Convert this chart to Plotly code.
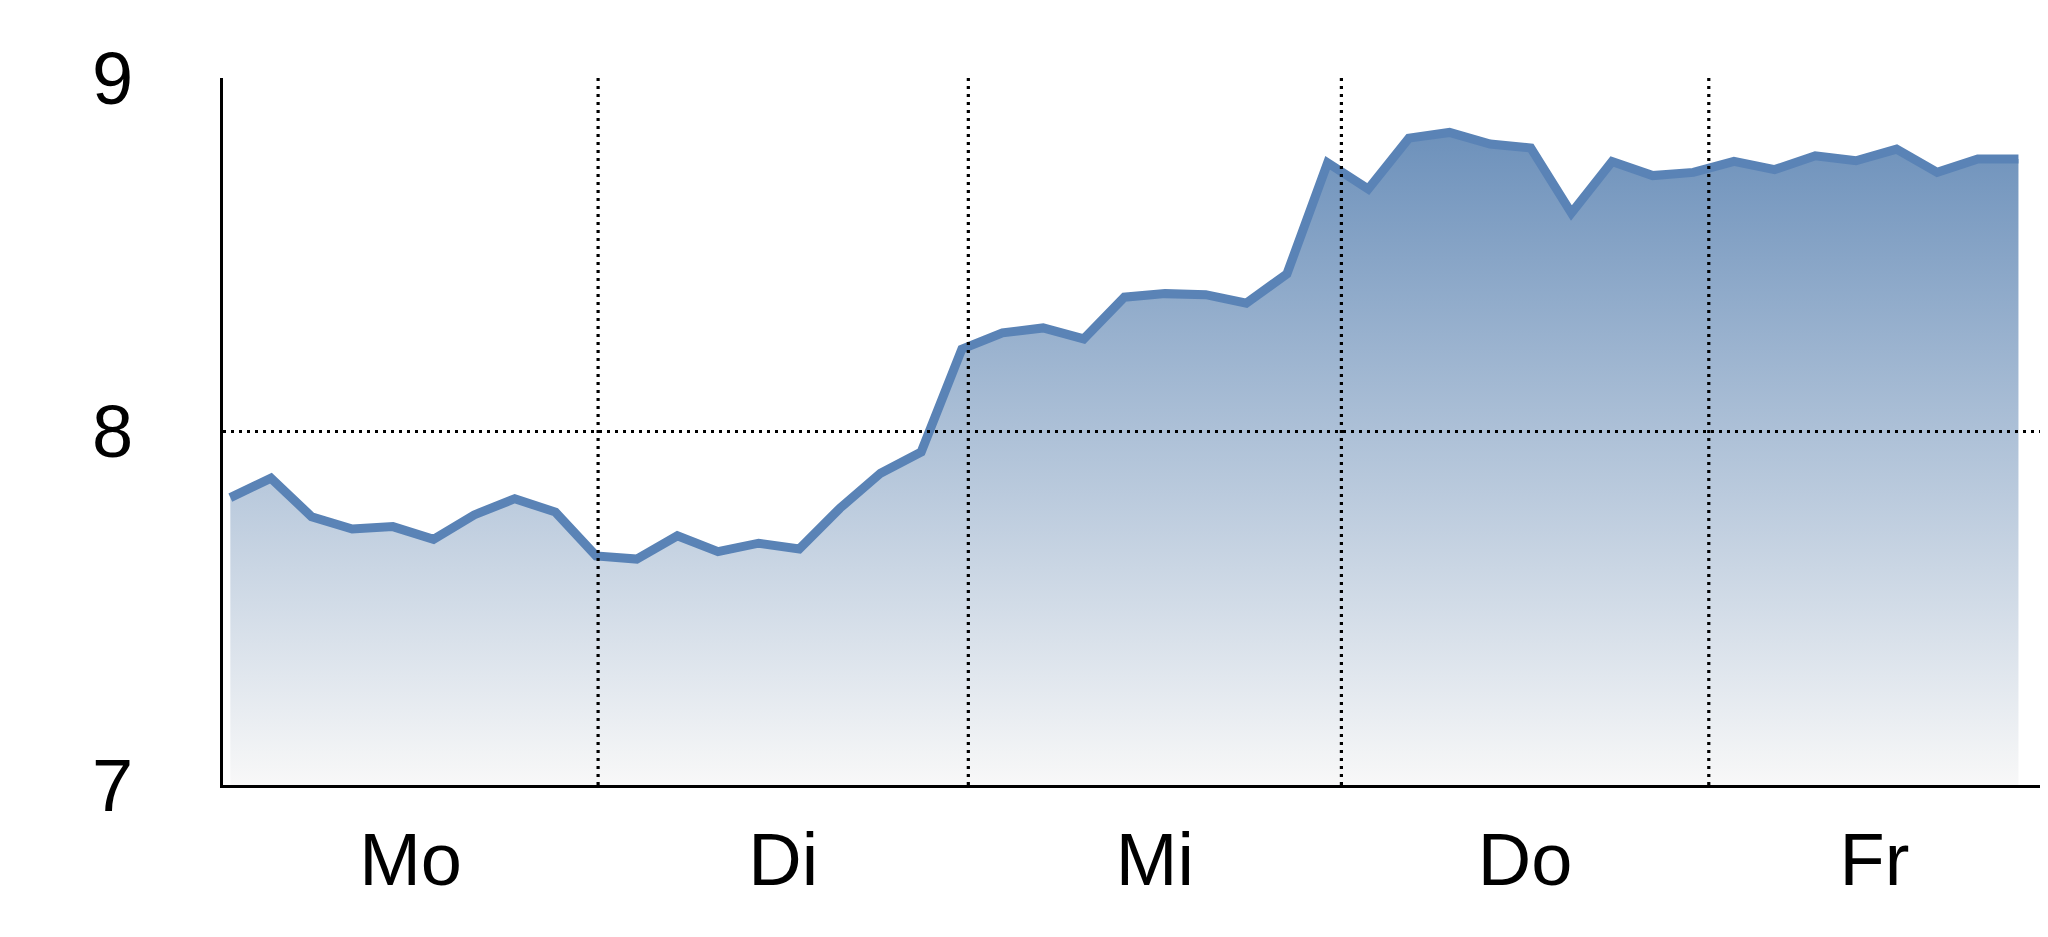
import plotly.graph_objects as go

# one sample per slot, five trading days
values = [
    7.813, 7.868, 7.759, 7.724, 7.731, 7.695, 7.764, 7.810, 7.772,
    7.648, 7.639, 7.705, 7.660, 7.684, 7.668, 7.783, 7.882, 7.942,
    8.233, 8.279, 8.293, 8.262, 8.380, 8.390, 8.387, 8.363, 8.446,
    8.760, 8.686, 8.830, 8.846, 8.813, 8.802, 8.618, 8.764, 8.724,
    8.733, 8.764, 8.741, 8.780, 8.766, 8.799, 8.733, 8.771, 8.771,
]
steps = list(range(len(values)))

day_names = ["Mo", "Di", "Mi", "Do", "Fr"]
day_bounds = [9.05, 18.16, 27.34, 36.38]   # where a new day starts
x_range = [-0.18, 44.53]
y_ticks = [7, 8, 9]
y_grid = [8]

edges = [x_range[0]] + day_bounds + [x_range[1]]
label_pos = [(a + b) / 2 for a, b in zip(edges[:-1], edges[1:])]

LINE_COLOR = "#5a83b6"
FONT = "Liberation Sans Narrow, Arial Narrow, Liberation Sans, Arial"
DOTS = "3px,5px"

fig = go.Figure()

fig.add_trace(
    go.Scatter(
        x=steps,
        y=values,
        mode="lines",
        line=dict(color=LINE_COLOR, width=9, shape="linear"),
        fill="tozeroy",
        fillgradient=dict(
            type="vertical",
            start=7,
            stop=max(values),
            colorscale=[[0, "#f8f8f8"], [1, "#6d91bb"]],
        ),
        hoverinfo="skip",
        showlegend=False,
    )
)

# dotted grid on top of the area
for xb in day_bounds:
    fig.add_shape(type="line", xref="x", yref="paper", x0=xb, x1=xb, y0=0, y1=1,
                  line=dict(color="black", width=3.2, dash=DOTS), layer="above")
for yg in y_grid:
    fig.add_shape(type="line", xref="paper", yref="y", x0=0, x1=1, y0=yg, y1=yg,
                  line=dict(color="black", width=3.2, dash=DOTS), layer="above")

# the page adds an 8px body margin, so the figure is kept 16px smaller
fig.update_layout(
    width=2032,
    height=921,
    margin=dict(l=215, r=0, t=70, b=144),
    paper_bgcolor="white",
    plot_bgcolor="white",
    font=dict(family=FONT, size=74, color="black"),
    showlegend=False,
)

fig.update_xaxes(
    range=x_range,
    tickmode="array",
    tickvals=label_pos,
    ticktext=day_names,
    ticks="",
    showgrid=False,
    zeroline=False,
    showline=True,
    linecolor="black",
    linewidth=3,
    ticklabelstandoff=8,
    layer="above traces",
)

fig.update_yaxes(
    range=[7, 9],
    tickmode="array",
    tickvals=y_ticks,
    ticktext=[str(v) for v in y_ticks],
    ticks="",
    showgrid=False,
    zeroline=False,
    showline=True,
    linecolor="black",
    linewidth=3,
    ticklabelstandoff=72,
    layer="above traces",
)

fig.write_html("out.html")
